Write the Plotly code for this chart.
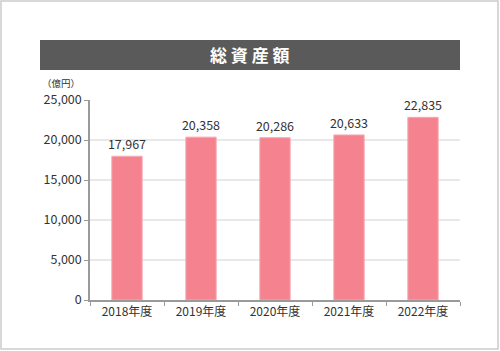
import plotly.graph_objects as go

categories = ["2018年度", "2019年度", "2020年度", "2021年度", "2022年度"]
values = [17967, 20358, 20286, 20633, 22835]
tick_vals = [0, 5000, 10000, 15000, 20000, 25000]
tick_text = ["0", "5,000", "10,000", "15,000", "20,000", "25,000"]

W, H = 500, 351
L, R, T, B = 90, 40, 100, 51
pw, ph = W - L - R, H - T - B

def px(x):
    return (x - L) / pw

def py(y):
    return (H - B - y) / ph

font = "Noto Sans CJK JP, Noto Sans, sans-serif"

fig = go.Figure(go.Bar(
    x=categories, y=values,
    marker=dict(color="#f4838f", line=dict(color="#f7a9b2", width=1)),
    width=0.41,
    text=[f"{v:,}" for v in values],
    textposition="outside",
    constraintext="none",
    textfont=dict(size=12.5, color="#333333", family=font),
    cliponaxis=False,
))

fig.update_layout(
    width=W, height=H,
    margin=dict(l=L, r=R, t=T, b=B),
    paper_bgcolor="white", plot_bgcolor="white",
    showlegend=False,
    font=dict(family=font, color="#333333", size=12),
    bargap=0.59,
)
fig.update_yaxes(
    range=[0, 25000], tickvals=tick_vals, ticktext=tick_text,
    showgrid=True, gridcolor="#e8e8e8", gridwidth=1.5,
    showline=True, linecolor="#9a9a9a", linewidth=1.5,
    ticks="outside", ticklen=4, tickcolor="#9a9a9a",
    tickfont=dict(size=12.5, color="#333333"), zeroline=False,
)
fig.update_xaxes(
    showline=True, linecolor="#9a9a9a", linewidth=1.5,
    ticks="outside", ticklen=4, tickcolor="#9a9a9a", tickson="boundaries",
    tickfont=dict(size=12, color="#333333"), showgrid=False,
)

fig.add_shape(type="rect", xref="paper", yref="paper",
              x0=px(1), x1=px(498), y0=py(349), y1=py(1),
              line=dict(color="#cccccc", width=1.5), fillcolor="rgba(0,0,0,0)", layer="below")
fig.add_shape(type="rect", xref="paper", yref="paper",
              x0=px(40), x1=px(460), y0=py(70), y1=py(40),
              line=dict(width=0), fillcolor="#5a5a5a")
fig.add_annotation(xref="paper", yref="paper", x=px(250), y=py(55),
                   text="<b>総 資 産 額</b>", showarrow=False,
                   font=dict(size=17, color="white", family=font),
                   xanchor="center", yanchor="middle")
fig.add_annotation(xref="paper", yref="paper", x=px(61), y=py(83),
                   text="（億円）", showarrow=False,
                   font=dict(size=9.5, color="#333333", family=font),
                   xanchor="center", yanchor="middle")

fig.write_html("out.html")
